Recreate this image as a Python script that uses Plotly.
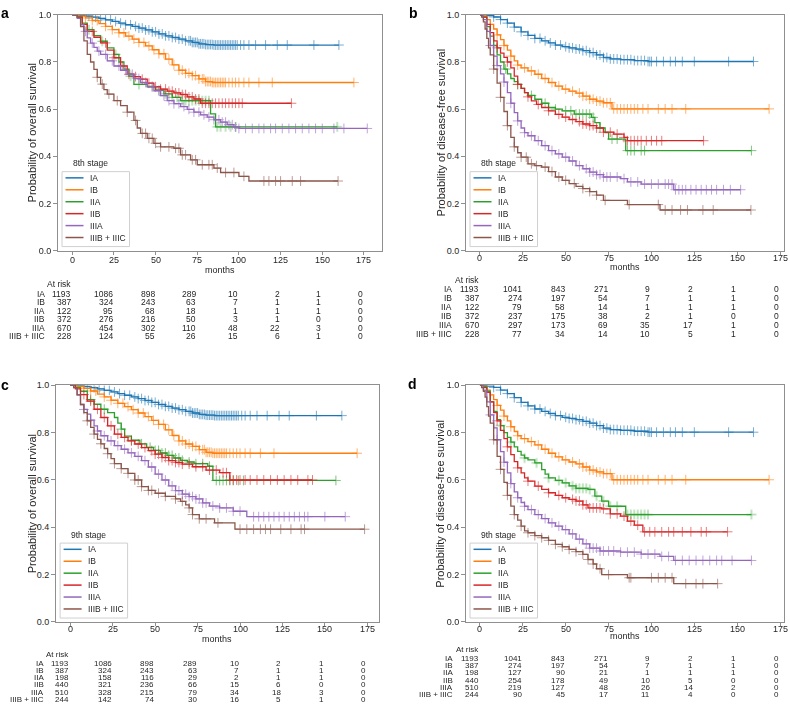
import plotly.graph_objects as go

W, H = 790, 718
FONT = "Liberation Sans, Arial, sans-serif"

STAGES = ["IA", "IB", "IIA", "IIB", "IIIA", "IIIB + IIIC"]
COLORS = ["#1f77b4", "#ff7f0e", "#2ca02c", "#d62728", "#9467bd", "#8c564b"]
X_TICKS = [0, 25, 50, 75, 100, 125, 150, 175]
Y_TICKS = [0, 0.2, 0.4, 0.6, 0.8, 1.0]

# ---------------- Overall survival, IA / IB (same in 8th and 9th) ----------------
os_ia_t = [0, 4, 8, 12, 16, 20, 24, 28, 32, 36, 40, 44, 48, 52, 56, 60, 64, 68, 72, 76, 80, 85, 160]
os_ia_s = [1.0, 0.998, 0.995, 0.99, 0.985, 0.979, 0.972, 0.965, 0.958, 0.951, 0.944, 0.936, 0.928,
           0.919, 0.911, 0.904, 0.897, 0.89, 0.883, 0.877, 0.874, 0.872, 0.872]
os_ia_c = [6, 10, 14, 17, 20, 23, 26, 29, 32, 35, 38, 40, 42, 44, 46, 48, 50, 52, 54, 56, 58, 60, 62, 64,
           66, 68, 70, 71, 72, 73, 74, 75, 76, 77, 78, 79, 80, 81, 82, 83, 84, 85, 86, 87, 88, 89, 90, 91,
           92, 93, 94, 95, 96, 97, 98, 99, 101, 103, 106, 110, 116, 123, 129, 145, 160]

os_ib_t = [0, 4, 8, 12, 16, 20, 24, 28, 32, 36, 40, 44, 48, 52, 56, 60, 64, 68, 72, 76, 80, 84, 169]
os_ib_s = [1.0, 0.995, 0.987, 0.976, 0.963, 0.951, 0.937, 0.924, 0.91, 0.897, 0.883, 0.868, 0.852,
           0.835, 0.812, 0.788, 0.765, 0.752, 0.742, 0.728, 0.717, 0.713, 0.713]
os_ib_c = [8, 12, 15, 20, 24, 28, 31, 34, 37, 40, 43, 46, 49, 52, 55, 58, 61, 64, 66, 68, 70, 72, 74, 76,
           78, 79, 80, 81, 82, 83, 84, 85, 86, 87, 88, 89, 90, 91, 92, 94, 96, 98, 100, 103, 106, 112, 120, 169]

# ---------------- Overall survival, 8th edition ----------------
os8_iia_t = [0, 3, 6, 9, 13, 17, 21, 25, 28, 31, 34, 37, 45, 50, 55, 60, 65, 83, 86, 159]
os8_iia_s = [1.0, 0.99, 0.965, 0.937, 0.912, 0.888, 0.86, 0.832, 0.8, 0.77, 0.74, 0.705, 0.695, 0.68,
             0.665, 0.65, 0.636, 0.58, 0.525, 0.525]
os8_iia_c = [10, 18, 26, 35, 40, 48, 52, 56, 60, 63, 66, 68, 70, 72, 74, 76, 78, 80, 82, 87, 89, 92, 95, 98, 159]

os8_iib_t = [0, 3, 6, 9, 13, 17, 21, 25, 29, 33, 37, 41, 45, 49, 53, 57, 61, 65, 69, 73, 77, 131.5]
os8_iib_s = [1.0, 0.99, 0.96, 0.93, 0.905, 0.881, 0.85, 0.818, 0.783, 0.748, 0.738, 0.727, 0.71, 0.695,
             0.685, 0.676, 0.669, 0.662, 0.652, 0.643, 0.625, 0.625]
os8_iib_c = [12, 20, 25, 30, 34, 38, 42, 46, 50, 53, 56, 58, 60, 62, 64, 66, 68, 70, 72, 74, 76, 78, 80,
             82, 84, 86, 88, 90, 92, 94, 96, 98, 100, 102, 131.5]

os8_iiia_t = [0, 3, 5, 7, 9, 11, 13, 15, 17, 21, 25, 29, 33, 37, 41, 45, 49, 53, 57, 61, 65, 69, 73, 77,
              81, 85, 89, 93, 97, 100, 177]
os8_iiia_s = [1.0, 0.985, 0.958, 0.93, 0.902, 0.88, 0.862, 0.846, 0.832, 0.805, 0.783, 0.765, 0.748, 0.73,
              0.713, 0.696, 0.678, 0.657, 0.636, 0.623, 0.611, 0.599, 0.587, 0.576, 0.566, 0.555, 0.545,
              0.534, 0.524, 0.518, 0.518]
os8_iiia_c = [8, 12, 16, 20, 24, 28, 32, 36, 40, 44, 48, 52, 55, 58, 61, 64, 67, 70, 73, 76, 79, 82, 85,
              88, 90, 92, 94, 96, 98, 100, 104, 108, 112, 115, 119, 122, 126, 130, 134, 138, 142, 146, 150,
              157, 163, 177]

os8_iiib_t = [0, 3, 5, 7, 9, 11, 13, 15, 17, 19, 21, 25, 29, 33, 37, 39, 41, 45, 49, 53, 61, 65, 71, 75,
              85, 89, 100, 106, 159.5]
os8_iiib_s = [1.0, 0.99, 0.95, 0.89, 0.832, 0.8, 0.769, 0.735, 0.706, 0.683, 0.664, 0.636, 0.615, 0.587,
              0.552, 0.52, 0.497, 0.476, 0.455, 0.44, 0.434, 0.406, 0.385, 0.364, 0.35, 0.331, 0.315,
              0.295, 0.295]
os8_iiib_c = [15, 18, 22, 27, 33, 38, 42, 44, 46, 48, 50, 53, 58, 62, 64, 66, 68, 72, 74, 78, 82, 84, 87,
              92, 97, 103, 115, 118, 122, 125, 132, 137, 159.5]

# ---------------- Overall survival, 9th edition ----------------
os9_iia_t = [0, 3, 6, 10, 14, 18, 22, 26, 28, 30, 32, 36, 41, 45, 49, 53, 57, 61, 65, 69, 73, 81, 84, 156.5]
os9_iia_s = [1.0, 0.99, 0.975, 0.94, 0.92, 0.899, 0.885, 0.864, 0.84, 0.815, 0.785, 0.768, 0.753, 0.738,
             0.725, 0.714, 0.704, 0.693, 0.683, 0.676, 0.669, 0.658, 0.598, 0.598]
os9_iia_c = [12, 20, 30, 36, 42, 47, 50, 52, 54, 56, 58, 60, 62, 64, 66, 70, 74, 78, 82, 86, 88, 90, 92,
             94, 96, 99, 102, 156.5]

os9_iib_t = [0, 3, 6, 10, 14, 18, 22, 26, 30, 34, 38, 42, 46, 50, 54, 58, 62, 66, 72, 80, 88, 94, 142.7]
os9_iib_s = [1.0, 0.985, 0.961, 0.933, 0.899, 0.864, 0.829, 0.794, 0.78, 0.765, 0.752, 0.737, 0.724,
             0.709, 0.695, 0.682, 0.674, 0.667, 0.656, 0.642, 0.631, 0.60, 0.60]
os9_iib_c = [8, 12, 16, 20, 24, 28, 32, 36, 40, 44, 48, 50, 52, 54, 56, 58, 60, 62, 64, 66, 70, 74, 78,
             82, 86, 90, 92, 94, 96, 98, 100, 103, 106, 110, 114, 118, 122, 126, 130, 134, 140, 142.7]

os9_iiia_t = [0, 2, 4, 6, 8, 10, 12, 14, 16, 18, 22, 26, 30, 34, 38, 42, 46, 50, 54, 58, 62, 66, 70, 74,
              78, 82, 88, 96, 104, 162]
os9_iiia_s = [1.0, 0.99, 0.96, 0.919, 0.898, 0.878, 0.853, 0.829, 0.807, 0.787, 0.765, 0.745, 0.73, 0.715,
              0.7, 0.682, 0.655, 0.625, 0.6, 0.575, 0.555, 0.54, 0.53, 0.52, 0.503, 0.49, 0.482, 0.468,
              0.445, 0.445]
os9_iiia_c = [8, 12, 16, 20, 24, 28, 32, 36, 40, 44, 48, 52, 56, 60, 62, 64, 66, 68, 70, 72, 74, 76, 78,
              80, 84, 88, 92, 96, 100, 108, 111, 114, 117, 120, 123, 126, 129, 132, 135, 138, 140, 150, 162]

os9_iiib_t = [0, 2, 4, 6, 8, 10, 12, 14, 16, 18, 20, 22, 24, 26, 30, 34, 38, 42, 46, 50, 56, 62, 65, 68,
              70, 72, 76, 85, 97, 173.4]
os9_iiib_s = [1.0, 0.99, 0.96, 0.919, 0.885, 0.85, 0.822, 0.794, 0.772, 0.753, 0.733, 0.711, 0.69, 0.669,
              0.648, 0.628, 0.6, 0.572, 0.556, 0.544, 0.531, 0.52, 0.51, 0.495, 0.482, 0.454, 0.436, 0.419,
              0.392, 0.392]
os9_iiib_c = [10, 14, 18, 22, 26, 30, 34, 38, 40, 42, 46, 48, 52, 56, 62, 66, 70, 72, 76, 80, 87, 100, 104,
              108, 112, 115, 118, 124, 130, 136, 138, 173.4]

# ---------------- Disease-free survival, IA / IB (same in 8th and 9th) ----------------
dfs_ia_t = [0, 4, 8, 12, 16, 20, 24, 28, 32, 36, 40, 44, 48, 52, 56, 60, 64, 68, 72, 76, 82, 90, 98, 159.5]
dfs_ia_s = [1.0, 0.997, 0.991, 0.98, 0.965, 0.948, 0.928, 0.913, 0.9, 0.89, 0.881, 0.872, 0.865, 0.86,
            0.855, 0.848, 0.84, 0.83, 0.819, 0.813, 0.81, 0.806, 0.802, 0.802]
dfs_ia_c = [8, 12, 16, 20, 24, 28, 32, 35, 38, 41, 44, 47, 50, 52, 54, 56, 58, 60, 62, 64, 66, 68, 70, 72,
            74, 76, 78, 80, 82, 84, 86, 88, 90, 92, 94, 96, 98, 99, 100, 103, 107, 111, 114, 118, 125, 145, 159.5]

dfs_ib_t = [0, 2, 4, 6, 8, 10, 12, 14, 16, 18, 20, 22, 24, 28, 32, 36, 40, 44, 48, 52, 56, 60, 64, 68, 72,
            77, 168.6]
dfs_ib_s = [1.0, 0.995, 0.98, 0.96, 0.94, 0.915, 0.895, 0.87, 0.85, 0.825, 0.805, 0.787, 0.775, 0.762,
            0.748, 0.73, 0.713, 0.698, 0.685, 0.676, 0.668, 0.655, 0.642, 0.634, 0.627, 0.601, 0.601]
dfs_ib_c = [10, 14, 18, 22, 26, 30, 34, 38, 42, 46, 50, 54, 58, 60, 62, 64, 66, 68, 70, 72, 74, 76, 78, 80,
            82, 84, 86, 88, 90, 92, 95, 98, 104, 108, 112, 120, 168.6]

# ---------------- Disease-free survival, 8th edition ----------------
dfs8_iia_t = [0, 2, 4, 6, 8, 10, 12, 14, 16, 18, 20, 22, 24, 26, 28, 32, 36, 40, 44, 48, 55, 65, 67, 70,
              73, 75, 85, 158.3]
dfs8_iia_s = [1.0, 0.99, 0.95, 0.91, 0.87, 0.83, 0.8, 0.77, 0.75, 0.73, 0.717, 0.705, 0.688, 0.67, 0.658,
              0.642, 0.625, 0.607, 0.6, 0.593, 0.579, 0.565, 0.543, 0.52, 0.5, 0.473, 0.424, 0.424]
dfs8_iia_c = [15, 22, 30, 38, 44, 50, 53, 56, 58, 60, 62, 64, 66, 70, 77, 80, 86, 88, 90, 94, 96, 158.3]

dfs8_iib_t = [0, 2, 4, 6, 8, 10, 12, 14, 16, 18, 20, 22, 24, 26, 28, 30, 33, 36, 40, 44, 48, 52, 56, 60,
              64, 68, 72, 78, 84, 86, 130.4]
dfs8_iib_s = [1.0, 0.99, 0.96, 0.925, 0.89, 0.86, 0.838, 0.82, 0.8, 0.775, 0.74, 0.705, 0.688, 0.67, 0.652,
              0.635, 0.62, 0.607, 0.593, 0.578, 0.566, 0.556, 0.547, 0.537, 0.53, 0.52, 0.502, 0.494, 0.48,
              0.466, 0.466]
dfs8_iib_c = [10, 16, 22, 28, 34, 40, 46, 50, 54, 58, 60, 62, 64, 66, 68, 72, 76, 80, 84, 86, 88, 90, 92,
              94, 97, 100, 103, 106, 130.4]

dfs8_iiia_t = [0, 2, 4, 6, 8, 10, 12, 14, 16, 18, 20, 22, 24, 26, 28, 32, 36, 40, 44, 48, 52, 56, 60, 64,
               68, 72, 82, 86, 94, 113, 152]
dfs8_iiia_s = [1.0, 0.98, 0.93, 0.87, 0.825, 0.785, 0.75, 0.715, 0.67, 0.625, 0.585, 0.55, 0.52, 0.5, 0.487,
               0.466, 0.445, 0.424, 0.41, 0.396, 0.38, 0.36, 0.347, 0.333, 0.322, 0.312, 0.305, 0.291,
               0.282, 0.258, 0.258]
dfs8_iiia_c = [6, 10, 14, 18, 22, 26, 30, 34, 38, 42, 46, 50, 54, 58, 62, 64, 66, 68, 70, 72, 74, 76, 80,
               84, 88, 92, 96, 100, 104, 108, 110, 112, 114, 116, 118, 120, 123, 126, 129, 132, 135, 138,
               142, 146, 152]

dfs8_iiib_t = [0, 1, 2, 3, 4, 5, 6, 8, 10, 12, 14, 16, 18, 20, 22, 24, 28, 32, 36, 40, 44, 48, 52, 56, 60,
               64, 68, 72, 86, 105, 158]
dfs8_iiib_s = [1.0, 0.99, 0.97, 0.94, 0.9, 0.86, 0.83, 0.77, 0.71, 0.65, 0.59, 0.53, 0.48, 0.44, 0.415,
               0.396, 0.368, 0.36, 0.354, 0.335, 0.312, 0.298, 0.284, 0.272, 0.263, 0.25, 0.235, 0.213,
               0.195, 0.172, 0.172]
dfs8_iiib_c = [8, 12, 16, 20, 24, 27, 30, 33, 38, 42, 46, 50, 55, 60, 64, 68, 73, 87, 104, 108, 112, 117,
               121, 130, 136, 158]

# ---------------- Disease-free survival, 9th edition ----------------
dfs9_iia_t = [0, 2, 4, 6, 8, 10, 12, 14, 16, 18, 20, 22, 24, 26, 28, 32, 36, 38, 40, 44, 48, 52, 56, 63,
              67, 71, 75, 85, 158.3]
dfs9_iia_s = [1.0, 0.995, 0.975, 0.93, 0.89, 0.855, 0.83, 0.8, 0.78, 0.76, 0.74, 0.721, 0.705, 0.693,
              0.685, 0.672, 0.644, 0.625, 0.609, 0.598, 0.588, 0.575, 0.565, 0.56, 0.532, 0.511, 0.489,
              0.454, 0.454]
dfs9_iia_c = [12, 18, 26, 33, 40, 46, 50, 54, 56, 58, 60, 62, 64, 68, 72, 76, 80, 86, 88, 90, 92, 94, 96,
              98, 158.3]

dfs9_iib_t = [0, 2, 4, 6, 8, 10, 12, 14, 16, 18, 20, 22, 24, 26, 28, 32, 36, 40, 44, 48, 52, 56, 60, 63,
              71, 76, 82, 86, 90, 95, 144.4]
dfs9_iib_s = [1.0, 0.99, 0.97, 0.93, 0.885, 0.85, 0.81, 0.775, 0.74, 0.707, 0.678, 0.651, 0.63, 0.609,
              0.595, 0.574, 0.56, 0.546, 0.535, 0.525, 0.518, 0.511, 0.495, 0.482, 0.478, 0.457, 0.447,
              0.426, 0.409, 0.381, 0.381]
dfs9_iib_c = [10, 16, 22, 28, 34, 40, 46, 50, 54, 56, 58, 60, 62, 64, 66, 68, 70, 72, 76, 80, 84, 88, 92,
              96, 99, 102, 106, 110, 113, 118, 123, 129, 132, 144.4]

dfs9_iiia_t = [0, 2, 4, 6, 8, 10, 12, 14, 16, 18, 20, 22, 24, 26, 28, 32, 36, 40, 44, 48, 52, 56, 60, 64,
               70, 82, 94, 105, 113, 158.3]
dfs9_iiia_s = [1.0, 0.98, 0.93, 0.875, 0.82, 0.77, 0.72, 0.675, 0.63, 0.585, 0.55, 0.525, 0.505, 0.489,
               0.475, 0.454, 0.437, 0.419, 0.405, 0.39, 0.372, 0.35, 0.33, 0.312, 0.3, 0.295, 0.287, 0.277,
               0.26, 0.26]
dfs9_iiia_c = [6, 10, 14, 18, 22, 26, 30, 34, 38, 42, 46, 50, 54, 58, 62, 64, 66, 68, 70, 72, 75, 78, 82,
               86, 90, 94, 98, 102, 106, 110, 114, 118, 122, 126, 130, 134, 138, 141, 147, 158.3]

dfs9_iiib_t = [0, 1, 2, 3, 4, 5, 6, 8, 10, 12, 14, 16, 18, 20, 22, 24, 26, 28, 32, 36, 40, 44, 48, 52, 56,
               60, 63, 66, 68, 71, 86, 113, 138.6]
dfs9_iiib_s = [1.0, 0.99, 0.975, 0.95, 0.91, 0.87, 0.84, 0.77, 0.7, 0.645, 0.59, 0.535, 0.49, 0.454, 0.43,
               0.405, 0.385, 0.377, 0.365, 0.356, 0.345, 0.328, 0.318, 0.307, 0.297, 0.286, 0.264, 0.245,
               0.225, 0.2, 0.187, 0.162, 0.162]
dfs9_iiib_c = [8, 12, 16, 20, 24, 28, 32, 36, 40, 44, 48, 52, 56, 60, 63, 66, 70, 75, 87, 88, 100, 104, 108,
               112, 120, 126, 130, 138.6]

# ---------------- Numbers at risk (columns = X_TICKS) ----------------
risk_a = [[1193, 1086, 898, 289, 10, 2, 1, 0],
          [387, 324, 243, 63, 7, 1, 1, 0],
          [122, 95, 68, 18, 1, 1, 1, 0],
          [372, 276, 216, 50, 3, 1, 0, 0],
          [670, 454, 302, 110, 48, 22, 3, 0],
          [228, 124, 55, 26, 15, 6, 1, 0]]
risk_b = [[1193, 1041, 843, 271, 9, 2, 1, 0],
          [387, 274, 197, 54, 7, 1, 1, 0],
          [122, 79, 58, 14, 1, 1, 1, 0],
          [372, 237, 175, 38, 2, 1, 0, 0],
          [670, 297, 173, 69, 35, 17, 1, 0],
          [228, 77, 34, 14, 10, 5, 1, 0]]
risk_c = [[1193, 1086, 898, 289, 10, 2, 1, 0],
          [387, 324, 243, 63, 7, 1, 1, 0],
          [198, 158, 116, 29, 2, 1, 1, 0],
          [440, 321, 236, 66, 15, 6, 0, 0],
          [510, 328, 215, 79, 34, 18, 3, 0],
          [244, 142, 74, 30, 16, 5, 1, 0]]
risk_d = [[1193, 1041, 843, 271, 9, 2, 1, 0],
          [387, 274, 197, 54, 7, 1, 1, 0],
          [198, 127, 90, 21, 1, 1, 1, 0],
          [440, 254, 178, 49, 10, 5, 0, 0],
          [510, 219, 127, 48, 26, 14, 2, 0],
          [244, 90, 45, 17, 11, 4, 0, 0]]


def step_at(ts, ss, t):
    val = ss[0]
    for ti, si in zip(ts, ss):
        if ti <= t:
            val = si
        else:
            break
    return val


def px_x(p):
    return p / W


def px_y(p):
    return 1 - p / H


panels = [
    dict(letter="a", ax="", box=(57.5, 382, 10, 249), xr=[-8.85, 185.85],
         ytitle="Probability of overall survival", ytx=31.7, leg="8th stage",
         curves=[(os_ia_t, os_ia_s, os_ia_c), (os_ib_t, os_ib_s, os_ib_c),
                 (os8_iia_t, os8_iia_s, os8_iia_c), (os8_iib_t, os8_iib_s, os8_iib_c),
                 (os8_iiia_t, os8_iiia_s, os8_iiia_c), (os8_iiib_t, os8_iiib_s, os8_iiib_c)],
         risk=risk_a, tick_y=258.3, months_y=269, atrisk_y=283.3, row0=292.7, rowstep=8.67,
         label_r=45.7, tfs=8.5, letter_xy=(5, 8)),
    dict(letter="b", ax="2", box=(465.5, 783.5, 10, 249), xr=[-8.43, 177.0],
         ytitle="Probability of disease-free survival", ytx=440.7, leg="8th stage",
         curves=[(dfs_ia_t, dfs_ia_s, dfs_ia_c), (dfs_ib_t, dfs_ib_s, dfs_ib_c),
                 (dfs8_iia_t, dfs8_iia_s, dfs8_iia_c), (dfs8_iib_t, dfs8_iib_s, dfs8_iib_c),
                 (dfs8_iiia_t, dfs8_iiia_s, dfs8_iiia_c), (dfs8_iiib_t, dfs8_iiib_s, dfs8_iiib_c)],
         risk=risk_b, tick_y=257, months_y=265.7, atrisk_y=279, row0=288.3, rowstep=9.1,
         label_r=453.3, tfs=8.5, letter_xy=(413, 8)),
    dict(letter="c", ax="3", box=(55.6, 379.3, 385.7, 625.7), xr=[-8.67, 182.07],
         ytitle="Probability of overall survival", ytx=31.7, leg="9th stage",
         curves=[(os_ia_t, os_ia_s, os_ia_c), (os_ib_t, os_ib_s, os_ib_c),
                 (os9_iia_t, os9_iia_s, os9_iia_c), (os9_iib_t, os9_iib_s, os9_iib_c),
                 (os9_iiia_t, os9_iiia_s, os9_iiia_c), (os9_iiib_t, os9_iiib_s, os9_iiib_c)],
         risk=risk_c, tick_y=632.7, months_y=643.3, atrisk_y=658.7, row0=667.3, rowstep=7.4,
         label_r=45, tfs=8, letter_xy=(5, 385)),
    dict(letter="d", ax="4", box=(465.5, 783.5, 385.7, 625.7), xr=[-8.43, 177.0],
         ytitle="Probability of disease-free survival", ytx=440, leg="9th stage",
         curves=[(dfs_ia_t, dfs_ia_s, dfs_ia_c), (dfs_ib_t, dfs_ib_s, dfs_ib_c),
                 (dfs9_iia_t, dfs9_iia_s, dfs9_iia_c), (dfs9_iib_t, dfs9_iib_s, dfs9_iib_c),
                 (dfs9_iiia_t, dfs9_iiia_s, dfs9_iiia_c), (dfs9_iiib_t, dfs9_iiib_s, dfs9_iiib_c)],
         risk=risk_d, tick_y=632.7, months_y=640, atrisk_y=653.3, row0=662.7, rowstep=7.3,
         label_r=454, tfs=8, letter_xy=(412.5, 384)),
]

fig = go.Figure()
annotations = []
shapes = []
layout_axes = {}

TXT = "#262626"
FRAME = "#8f8f8f"

for p in panels:
    ax = p["ax"]
    xname, yname = "x" + ax, "y" + ax
    L, R, T, B = p["box"]
    layout_axes["xaxis" + ax] = dict(
        domain=[px_x(L), px_x(R)], range=p["xr"], anchor=yname, tickvals=X_TICKS,
        showticklabels=False,
        showgrid=False, zeroline=False, showline=True, mirror=True, linecolor=FRAME, linewidth=1,
        ticks="outside", ticklen=3.5, tickwidth=1, tickcolor=FRAME)
    layout_axes["yaxis" + ax] = dict(
        domain=[px_y(B), px_y(T)], range=[0, 1], anchor=xname,
        tickvals=Y_TICKS, tickformat=".1f",
        showgrid=False, zeroline=False, showline=True, mirror=True, linecolor=FRAME, linewidth=1,
        ticks="outside", ticklen=3.5, tickwidth=1, tickcolor=FRAME,
        tickfont=dict(family=FONT, size=9, color=TXT))

    for (t, s, cens), color in zip(p["curves"], COLORS):
        fig.add_trace(go.Scatter(x=t, y=s, mode="lines", xaxis=xname, yaxis=yname,
                                 line=dict(color=color, width=1.3, shape="hv"),
                                 showlegend=False, hoverinfo="skip"))
        cy = [step_at(t, s, c) for c in cens]
        fig.add_trace(go.Scatter(x=cens, y=cy, mode="markers", xaxis=xname, yaxis=yname,
                                 marker=dict(symbol="cross-thin", size=7, color=color,
                                             line=dict(color=color, width=1)),
                                 opacity=0.6, showlegend=False, hoverinfo="skip"))

    # x tick labels
    for tick in X_TICKS:
        annotations.append(dict(text=str(tick), x=tick, y=px_y(p["tick_y"]), xref=xname, yref="paper",
                                showarrow=False, xanchor="center", yanchor="middle", borderpad=0,
                                font=dict(family=FONT, size=9, color=TXT)))

    # panel letter
    lx, ly = p["letter_xy"]
    annotations.append(dict(text="<b>%s</b>" % p["letter"], x=px_x(lx), y=px_y(ly), xref="paper",
                            yref="paper", showarrow=False, xanchor="center", yanchor="middle",
                            font=dict(family=FONT, size=14, color="#000")))
    # y-axis title
    annotations.append(dict(text=p["ytitle"], x=px_x(p["ytx"]), y=px_y((T + B) / 2), xref="paper",
                            yref="paper", showarrow=False, textangle=-90, xanchor="center",
                            yanchor="middle", font=dict(family=FONT, size=11, color=TXT)))
    # x-axis title
    annotations.append(dict(text="months", x=px_x((L + R) / 2), y=px_y(p["months_y"]), xref="paper",
                            yref="paper", showarrow=False, xanchor="center", yanchor="middle",
                            borderpad=0, font=dict(family=FONT, size=9, color=TXT)))

    # legend (drawn inside lower-left corner)
    shapes.append(dict(type="rect", xref="paper", yref="paper", x0=px_x(L + 4.5), x1=px_x(L + 72),
                       y0=px_y(B - 4), y1=px_y(B - 80), line=dict(color="#d0d0d0", width=1),
                       fillcolor="rgba(255,255,255,0.85)", layer="above"))
    annotations.append(dict(text=p["leg"], x=px_x(L + 14.5), y=px_y(B - 88.5), xref="paper",
                            yref="paper", showarrow=False, xanchor="left", yanchor="middle",
                            borderpad=0, font=dict(family=FONT, size=8.5, color=TXT)))
    for i, (name, color) in enumerate(zip(STAGES, COLORS)):
        yy = B - 73.7 + 12.1 * i
        shapes.append(dict(type="line", xref="paper", yref="paper", x0=px_x(L + 8), x1=px_x(L + 26),
                           y0=px_y(yy), y1=px_y(yy), line=dict(color=color, width=1.5), layer="above"))
        annotations.append(dict(text=name, x=px_x(L + 31), y=px_y(yy), xref="paper", yref="paper",
                                showarrow=False, xanchor="left", yanchor="middle", borderpad=0,
                                font=dict(family=FONT, size=8.5, color=TXT)))

    # at-risk table
    fs = p["tfs"]
    annotations.append(dict(text="At risk", x=0, y=px_y(p["atrisk_y"]), xref=xname, yref="paper",
                            showarrow=False, xanchor="right", yanchor="middle", borderpad=0,
                            font=dict(family=FONT, size=fs, color=TXT)))
    for i, (name, row) in enumerate(zip(STAGES, p["risk"])):
        yy = p["row0"] + p["rowstep"] * i
        annotations.append(dict(text=name, x=px_x(p["label_r"]), y=px_y(yy), xref="paper", yref="paper",
                                showarrow=False, xanchor="right", yanchor="middle", borderpad=0,
                                font=dict(family=FONT, size=fs, color=TXT)))
        for tick, val in zip(X_TICKS, row):
            annotations.append(dict(text=str(val), x=tick, y=px_y(yy), xref=xname, yref="paper",
                                    showarrow=False, xanchor="right", yanchor="middle", borderpad=0,
                                    font=dict(family=FONT, size=fs, color=TXT)))

fig.update_layout(width=W, height=H, margin=dict(l=0, r=0, t=0, b=0),
                  paper_bgcolor="white", plot_bgcolor="white",
                  annotations=annotations, shapes=shapes, showlegend=False,
                  font=dict(family=FONT, color=TXT), **layout_axes)

fig.write_html("out.html")
